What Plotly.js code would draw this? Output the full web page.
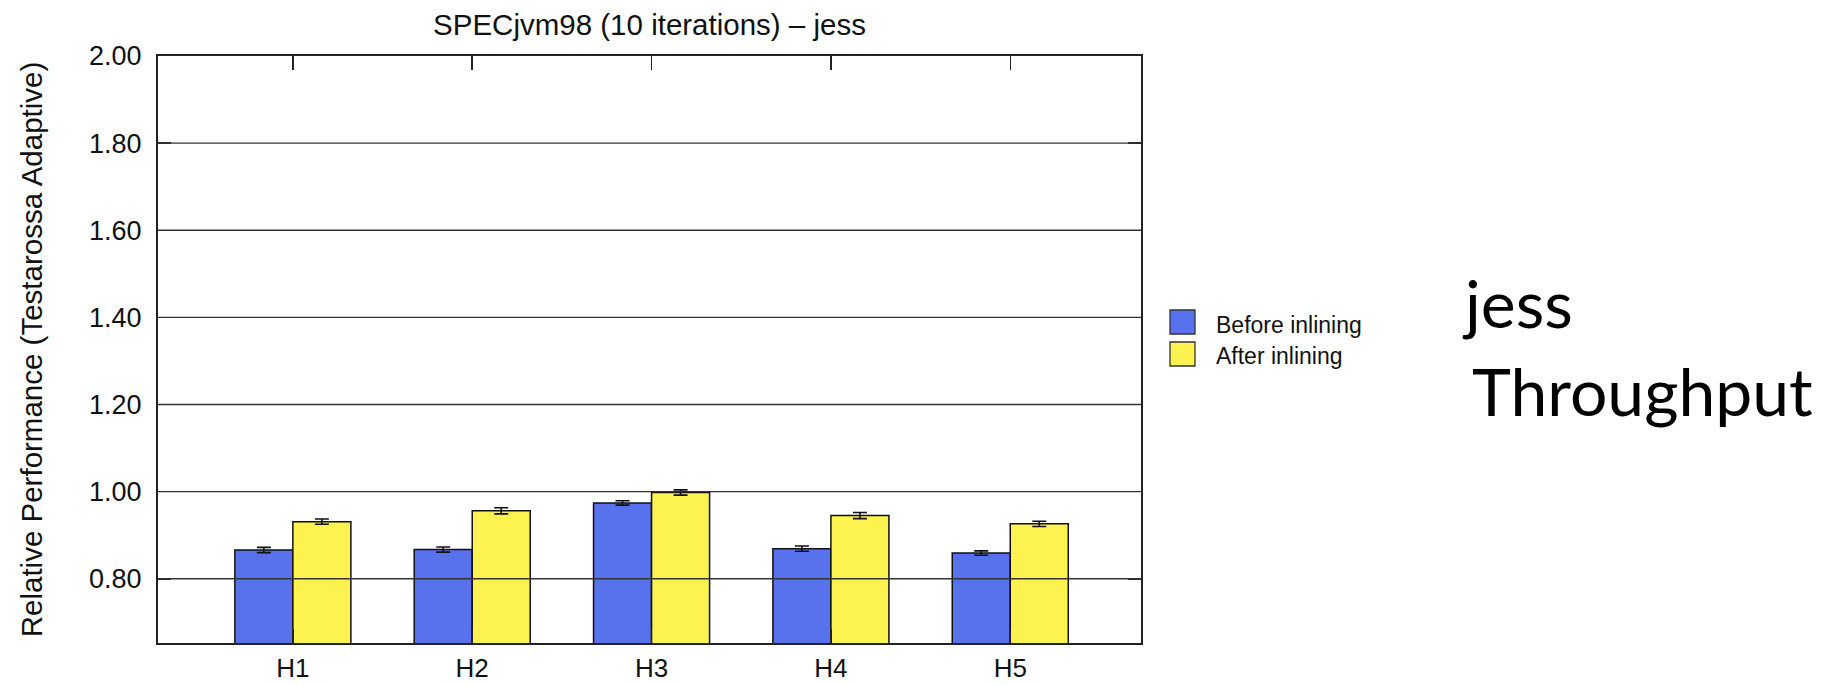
<!DOCTYPE html>
<html><head><meta charset="utf-8">
<script src="https://cdn.plot.ly/plotly-3.0.1.min.js"></script>
<style>html,body{margin:0;padding:0;background:#fff}#chart{width:1842px;height:685px}</style>
</head><body><div id="chart"></div>
<script>
const categories = ['H1', 'H2', 'H3', 'H4', 'H5'];
const seriesNames = ['Before inlining', 'After inlining'];
const beforeValues = [0.866, 0.867, 0.974, 0.869, 0.859];
const afterValues = [0.931, 0.956, 0.998, 0.945, 0.926];
const beforeErrors = [0.006, 0.006, 0.005, 0.006, 0.005];
const afterErrors = [0.006, 0.007, 0.006, 0.007, 0.006];
const yTicks = [0.8, 1.0, 1.2, 1.4, 1.6, 1.8, 2.0];
const titleText = 'SPECjvm98 (10 iterations) \u2013 jess';
const yTitleText = 'Relative Performance (Testarossa Adaptive)';
const sideLines = ['jess', 'Throughput'];

const W = 1842, H = 685;
const M = {l: 158, r: W - 1141, t: 56, b: H - 643};
const PW = W - M.l - M.r, PH = H - M.t - M.b;
const px = x => (x - M.l) / PW;
const py = y => (H - M.b - y) / PH;

const blue = '#5872ee', yellow = '#fcf350';
const fontFam = '"Liberation Sans", Arial, sans-serif';

function barTrace(name, vals, errs, color) {
  return {
    type: 'bar', name: name, x: categories, y: vals,
    marker: {color: color, line: {color: '#111', width: 1.5}},
    error_y: {type: 'data', array: errs, visible: true, color: '#111', thickness: 1.6, width: 7},
    showlegend: false, hoverinfo: 'x+y'
  };
}

const data = [
  barTrace(seriesNames[0], beforeValues, beforeErrors, blue),
  barTrace(seriesNames[1], afterValues, afterErrors, yellow)
];

const shapes = yTicks.filter(t => t < 2.0).map(t => ({
  type: 'line', xref: 'paper', yref: 'y', x0: 0, x1: 1, y0: t, y1: t,
  line: {color: '#333', width: 1.3}, layer: 'above'
}));

// legend swatches
const legendRows = [
  {name: seriesNames[0], color: blue, top: 310, bottom: 334, mid: 325},
  {name: seriesNames[1], color: yellow, top: 342, bottom: 366, mid: 356}
];
const annotations = [];
legendRows.forEach(r => {
  shapes.push({type: 'rect', xref: 'paper', yref: 'paper',
    x0: px(1170), x1: px(1195), y0: py(r.bottom), y1: py(r.top),
    fillcolor: r.color, line: {color: '#333', width: 1.3}});
  annotations.push({xref: 'paper', yref: 'paper', x: px(1214), y: py(r.mid),
    xanchor: 'left', yanchor: 'middle', showarrow: false, text: r.name,
    font: {family: fontFam, size: 23, color: '#111'}});
});

// side text
annotations.push({xref: 'paper', yref: 'paper', x: px(1460), y: py(302), xanchor: 'left', yanchor: 'middle',
  showarrow: false, text: sideLines[0], font: {family: 'Lato, "Open Sans", sans-serif', size: 66, color: '#000'}});
annotations.push({xref: 'paper', yref: 'paper', x: px(1470), y: py(390), xanchor: 'left', yanchor: 'middle',
  showarrow: false, text: sideLines[1], font: {family: 'Lato, "Open Sans", sans-serif', size: 66, color: '#000'}});

const layout = {
  width: W, height: H,
  margin: M,
  paper_bgcolor: '#fff', plot_bgcolor: '#fff',
  font: {family: fontFam, color: '#111'},
  title: {text: titleText, font: {family: fontFam, size: 29.5, color: '#111'},
    xref: 'paper', x: 0.5, xanchor: 'center', yref: 'container', y: 1 - 25 / H, yanchor: 'middle'},
  barmode: 'group', bargap: 0.353, bargroupgap: 0,
  xaxis: {
    type: 'category', range: [-0.752, 4.729], fixedrange: true,
    showline: true, linecolor: '#222', linewidth: 2, mirror: 'ticks',
    ticks: 'inside', ticklen: 14, tickwidth: 1.5, tickcolor: '#222',
    showgrid: false, zeroline: false,
    tickfont: {family: fontFam, size: 26, color: '#111'}, ticklabelstandoff: 1
  },
  yaxis: {
    range: [0.6525, 2.0], fixedrange: true,
    tickvals: yTicks, ticktext: yTicks.map(v => v.toFixed(2)),
    showline: true, linecolor: '#222', linewidth: 2, mirror: 'ticks',
    ticks: 'inside', ticklen: 13, tickwidth: 1.5, tickcolor: '#222',
    showgrid: false, zeroline: false,
    tickfont: {family: fontFam, size: 27, color: '#111'}, ticklabelstandoff: 9,
    title: {text: yTitleText, font: {family: fontFam, size: 29.5, color: '#111'}, standoff: 38}
  },
  shapes: shapes,
  annotations: annotations
};

Plotly.newPlot('chart', data, layout, {staticPlot: true, displayModeBar: false});
</script>
</body></html>
